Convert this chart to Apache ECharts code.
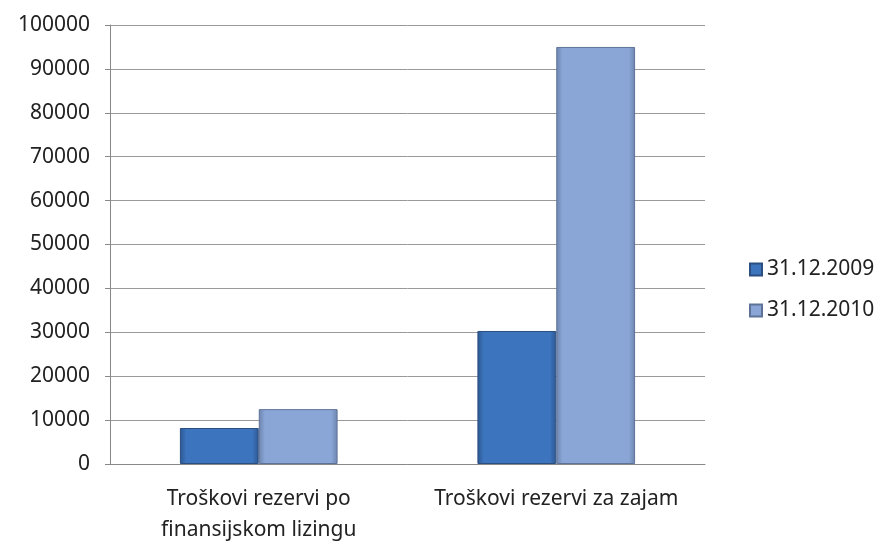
<!DOCTYPE html>
<html>
<head>
<meta charset="utf-8">
<script src="https://cdn.jsdelivr.net/npm/echarts@6/dist/echarts.min.js"></script>
<style>
  html, body { margin: 0; padding: 0; background: #fff; }
  #chart { width: 882px; height: 546px; }
</style>
</head>
<body>
<div id="chart"></div>
<script>
var categories = ['Troškovi rezervi po\nfinansijskom lizingu', 'Troškovi rezervi za zajam'];
var seriesNames = ['31.12.2009', '31.12.2010'];
var values2009 = [8200, 30300];
var values2010 = [12500, 95000];

var chart = echarts.init(document.getElementById('chart'));

var grad = function (edge, mid) {
    return new echarts.graphic.LinearGradient(0, 0, 1, 0, [
        { offset: 0, color: edge },
        { offset: 0.08, color: mid },
        { offset: 0.92, color: mid },
        { offset: 1, color: edge }
    ]);
};

var option = {
    animation: false,
    textStyle: { fontFamily: 'Noto Sans' },
    grid: { left: 110, right: 177, top: 25, bottom: 81 },
    legend: {
        orient: 'vertical',
        left: 744,
        top: 254,
        itemWidth: 12,
        itemHeight: 12,
        itemGap: 20,
        icon: 'rect',
        textStyle: { fontSize: 21, color: '#222', fontFamily: 'Noto Sans' },
        data: seriesNames
    },
    xAxis: {
        type: 'category',
        data: categories,
        axisLine: { lineStyle: { color: '#888' } },
        axisTick: { length: 7, lineStyle: { color: '#888' } },
        axisLabel: { fontSize: 21, color: '#222', margin: 20, lineHeight: 31, interval: 0 }
    },
    yAxis: {
        type: 'value',
        min: 0,
        max: 100000,
        interval: 10000,
        axisLine: { show: true, lineStyle: { color: '#888' } },
        axisTick: { show: true, length: 5, lineStyle: { color: '#888' } },
        axisLabel: { fontSize: 21, color: '#222', margin: 20, formatter: function (v) { return String(v); } },
        splitLine: { lineStyle: { color: '#999' } }
    },
    series: [
        {
            name: seriesNames[0],
            type: 'bar',
            data: values2009,
            barGap: '0%',
            barCategoryGap: '47%',
            itemStyle: {
                color: grad('#2c5791', '#3c74bd'),
                borderColor: '#2b4f80',
                borderWidth: 1
            }
        },
        {
            name: seriesNames[1],
            type: 'bar',
            data: values2010,
            itemStyle: {
                color: grad('#6d84ad', '#89a6d6'),
                borderColor: '#5f7398',
                borderWidth: 1
            }
        }
    ]
};

chart.setOption(option);
</script>
</body>
</html>
